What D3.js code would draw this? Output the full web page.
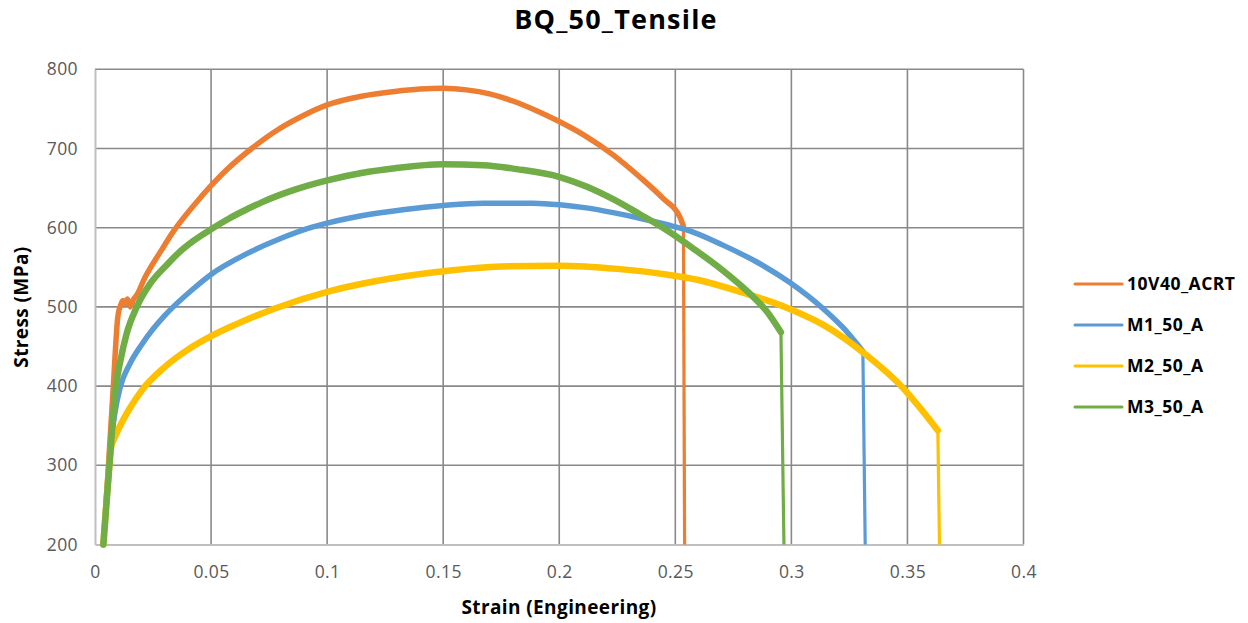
<!DOCTYPE html>
<html>
<head>
<meta charset="utf-8">
<script src="https://cdn.jsdelivr.net/npm/d3@7"></script>
<style>
  html, body { margin: 0; padding: 0; background: #fff; }
  svg { display: block; }
  text { font-family: "Open Sans", "DejaVu Sans", sans-serif; }
</style>
</head>
<body>
<svg id="chart" width="1248" height="623"></svg>
<script>
// Tensile test curves: engineering strain vs stress (MPa)
const seriesNames = ["10V40_ACRT", "M1_50_A", "M2_50_A", "M3_50_A"];
const seriesColors = ["#ED7D31", "#5B9BD5", "#FFC000", "#70AD47"];

const strain10V40 = [0.0036, 0.0058, 0.0079, 0.0098, 0.0110, 0.0120, 0.0130, 0.0140, 0.0152, 0.0165, 0.0180, 0.0215, 0.0287, 0.0337, 0.0431, 0.0500, 0.0574, 0.0675, 0.0789, 0.0900, 0.1000, 0.1148, 0.1292, 0.1400, 0.1500, 0.1600, 0.1700, 0.1800, 0.1900, 0.2000, 0.2117, 0.2232, 0.2347, 0.2447, 0.2519, 0.2535, 0.2540];
const stress10V40 = [200, 300, 400, 487, 502, 508, 504, 510, 500, 509, 515, 537, 572, 595, 630, 653, 675, 700, 724, 742, 755, 766, 772, 775, 776, 774, 769, 760, 748, 734, 715, 692, 664, 637, 614, 602, 200];

const strainM1 = [0.0036, 0.0062, 0.0072, 0.0085, 0.0110, 0.0150, 0.0200, 0.0250, 0.0300, 0.0337, 0.0420, 0.0500, 0.0646, 0.0789, 0.0918, 0.1005, 0.1148, 0.1335, 0.1500, 0.1672, 0.1887, 0.2002, 0.2117, 0.2232, 0.2347, 0.2462, 0.2562, 0.2705, 0.2849, 0.2992, 0.3136, 0.3222, 0.3308, 0.3318];
const stressM1 = [200, 300, 335, 365, 400, 428, 452, 472, 489, 500, 522, 541, 566, 585, 599, 606, 615, 623, 628, 631, 631, 629, 625, 619, 612, 604, 596, 578, 557, 531, 498, 474, 444, 200];

const strainM2 = [0.0036, 0.0062, 0.0069, 0.0085, 0.0100, 0.0150, 0.0200, 0.0300, 0.0400, 0.0500, 0.0600, 0.0775, 0.1000, 0.1200, 0.1500, 0.1750, 0.2000, 0.2250, 0.2460, 0.2600, 0.2780, 0.2980, 0.3140, 0.3320, 0.3480, 0.3550, 0.3631, 0.3638];
const stressM2 = [200, 300, 322, 335, 345, 372, 394, 424, 446, 463, 477, 498, 519, 532, 545, 551, 552, 548, 541, 534, 519, 499, 477, 440, 398, 374, 344, 200];

const strainM3 = [0.0036, 0.0062, 0.0075, 0.0090, 0.0108, 0.0136, 0.0180, 0.0237, 0.0309, 0.0359, 0.0431, 0.0500, 0.0574, 0.0646, 0.0718, 0.0861, 0.1005, 0.1148, 0.1292, 0.1500, 0.1672, 0.1816, 0.2002, 0.2117, 0.2232, 0.2347, 0.2462, 0.2576, 0.2705, 0.2820, 0.2892, 0.2955, 0.2968];
const stressM3 = [200, 300, 350, 400, 430, 466, 500, 529, 553, 568, 585, 598, 611, 622, 632, 648, 660, 669, 675, 680, 679, 674, 664, 652, 636, 617, 597, 574, 546, 517, 495, 468, 200];

const xTicks = [0, 0.05, 0.1, 0.15, 0.2, 0.25, 0.3, 0.35, 0.4];
const yTicks = [200, 300, 400, 500, 600, 700, 800];

const chartTitle = "BQ_50_Tensile";
const xTitle = "Strain (Engineering)";
const yTitle = "Stress (MPa)";

const seriesData = [
  { name: seriesNames[0], color: seriesColors[0], x: strain10V40, y: stress10V40, w: 5.5 },
  { name: seriesNames[1], color: seriesColors[1], x: strainM1, y: stressM1, w: 5.5 },
  { name: seriesNames[2], color: seriesColors[2], x: strainM2, y: stressM2, w: 6.5 },
  { name: seriesNames[3], color: seriesColors[3], x: strainM3, y: stressM3, w: 6.5 }
];
// draw order: later series on top
const drawOrder = [0, 1, 2, 3];

const svg = d3.select("#chart");
const plot = { left: 95, right: 1023.5, top: 69.3, bottom: 544.5 };

const x = d3.scaleLinear().domain([0, 0.4]).range([plot.left, plot.right]);
const y = d3.scaleLinear().domain([200, 800]).range([plot.bottom, plot.top]);

// grid
const grid = svg.append("g");
grid.selectAll("line.v").data(xTicks.filter(d => d > 0)).join("line")
  .attr("x1", d => x(d)).attr("x2", d => x(d))
  .attr("y1", plot.top).attr("y2", plot.bottom)
  .attr("stroke", "#898989").attr("stroke-width", 1.6);
grid.selectAll("line.h").data(yTicks.filter(d => d > 200)).join("line")
  .attr("x1", plot.left).attr("x2", plot.right)
  .attr("y1", d => y(d)).attr("y2", d => y(d))
  .attr("stroke", "#898989").attr("stroke-width", 1.6);

// axes
const tickStyle = sel => sel.attr("fill", "#595959")
  .style("font-size", "17.5px").style("letter-spacing", "0.4px");

const xAxis = d3.axisBottom(x).tickValues(xTicks).tickSize(0).tickPadding(21)
  .tickFormat(d => d3.format("")(+d.toFixed(2)));
const gx = svg.append("g").attr("transform", `translate(0,${plot.bottom})`).call(xAxis);
gx.select(".domain").attr("stroke", "#BFBFBF").attr("stroke-width", 2);
gx.selectAll("text").call(tickStyle);

const yAxis = d3.axisLeft(y).tickValues(yTicks).tickSize(0).tickPadding(17);
const gy = svg.append("g").attr("transform", `translate(${plot.left},0)`).call(yAxis);
gy.select(".domain").attr("stroke", "#BFBFBF").attr("stroke-width", 2);
gy.selectAll("text").call(tickStyle);

// curves: smooth body, then the straight fracture drop
const smooth = d3.line().x(d => x(d[0])).y(d => y(d[1])).curve(d3.curveMonotoneX);
const straight = d3.line().x(d => x(d[0])).y(d => y(d[1]));
const curves = svg.append("g").attr("fill", "none").attr("stroke-linejoin", "round").attr("stroke-linecap", "round");
drawOrder.forEach(i => {
  const s = seriesData[i];
  const pts = s.x.map((v, k) => [v, s.y[k]]);
  const body = pts.slice(0, pts.length - 1);
  const drop = pts.slice(pts.length - 2);
  curves.append("path").datum(body).attr("d", smooth)
    .attr("stroke", s.color).attr("stroke-width", s.w);
  curves.append("path").datum(drop).attr("d", straight)
    .attr("stroke", s.color).attr("stroke-width", 3.2).attr("stroke-linecap", "butt");
});

// legend
const legend = svg.append("g");
const legY = [284, 325, 366, 407];
seriesData.forEach((s, i) => {
  legend.append("line").attr("x1", 1075).attr("x2", 1122)
    .attr("y1", legY[i]).attr("y2", legY[i])
    .attr("stroke", s.color).attr("stroke-width", 3).attr("stroke-linecap", "round");
  legend.append("text").attr("x", 1127).attr("y", legY[i]).attr("dy", "0.36em")
    .attr("fill", "#000").style("font-size", "17.5px").style("font-weight", "bold")
    .style("letter-spacing", "0.5px")
    .text(s.name);
});

// titles
svg.append("text").attr("x", 616).attr("y", 29).attr("text-anchor", "middle")
  .style("font-size", "27px").style("font-weight", "bold").style("letter-spacing", "1.2px")
  .attr("fill", "#000")
  .text(chartTitle);
svg.append("text").attr("x", 559).attr("y", 614).attr("text-anchor", "middle")
  .style("font-size", "19px").style("font-weight", "bold").style("letter-spacing", "0.4px")
  .attr("fill", "#000")
  .text(xTitle);
svg.append("text").attr("transform", "translate(28,307) rotate(-90)").attr("text-anchor", "middle")
  .style("font-size", "19px").style("font-weight", "bold").style("letter-spacing", "0.4px")
  .attr("fill", "#000")
  .text(yTitle);
</script>
</body>
</html>
